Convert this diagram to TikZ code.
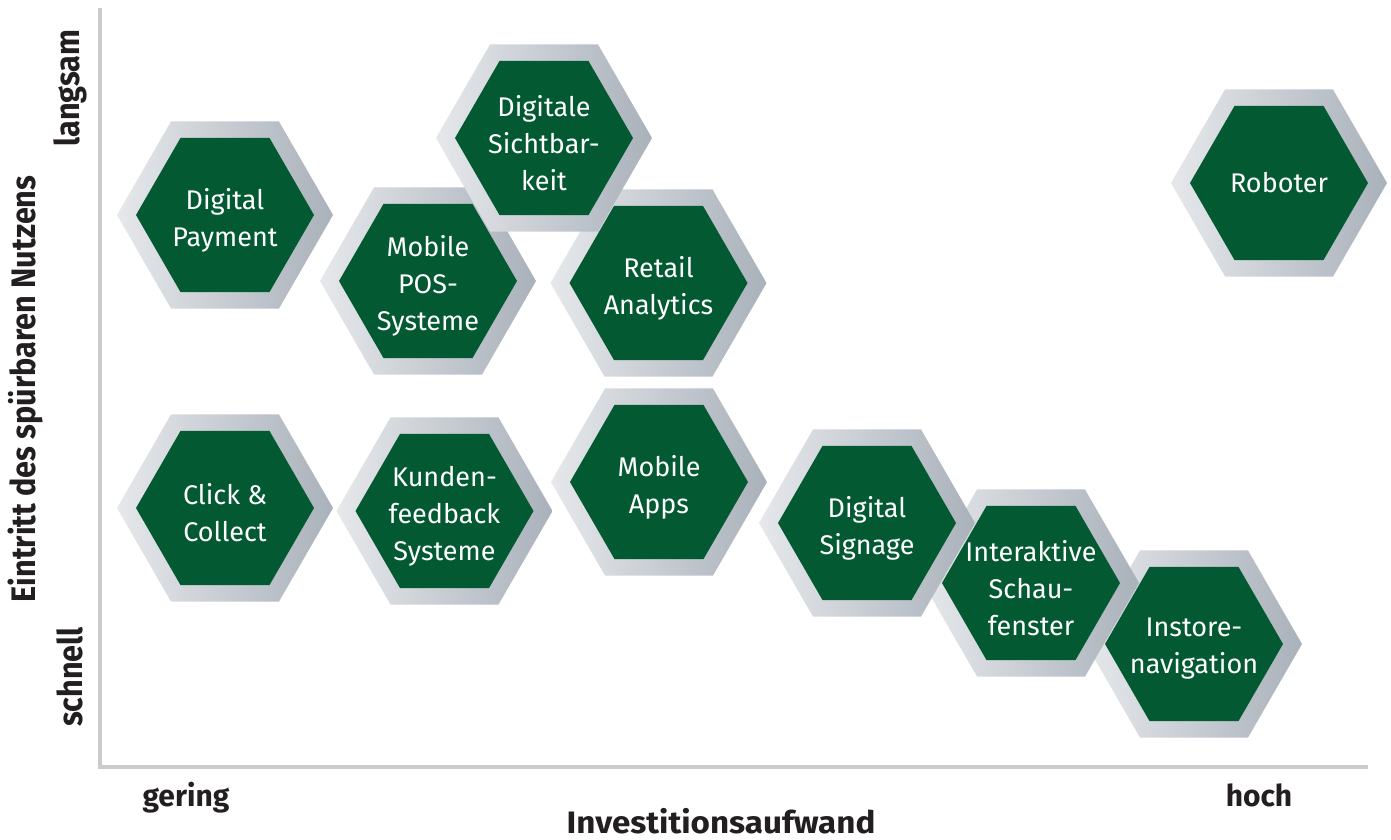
\documentclass[tikz,border=0pt]{standalone}
\usepackage{fontspec}
\setmainfont{Fira Sans}
\newfontfamily\axisfont{Fira Sans}[UprightFont=* Bold, BoldFont=* Bold]
\newfontfamily\axiswide{Fira Sans}[UprightFont=* Bold, BoldFont=* Bold, FakeStretch=1.07]
\newfontfamily\axiscond{Fira Sans}[UprightFont=* Bold, BoldFont=* Bold, FakeStretch=0.9]

\definecolor{hexlight}{HTML}{E6E8EB}
\definecolor{hexdark}{HTML}{A9B1BA}
\definecolor{hexgreen}{HTML}{035A32}
\definecolor{axisgray}{HTML}{CBCBCB}
\definecolor{labelink}{HTML}{231F20}

\tikzset{
  hexlabel/.style={text=white, align=center, inner sep=0pt, yshift=-5pt,
    font=\fontsize{27}{37}\selectfont},
  axisline/.style={draw=axisgray, line width=4pt},
  axislabel/.style={text=labelink, inner sep=0pt, anchor=base, font=\axisfont\fontsize{30}{34}\selectfont},
  axistitle/.style={text=labelink, inner sep=0pt, anchor=base, font=\axiswide\fontsize{31}{34}\selectfont},
  axiscondlabel/.style={text=labelink, inner sep=0pt, rotate=90, font=\axiscond\fontsize{34}{38}\selectfont},
}

% one hexagon cell: [label options], name, centre x, centre y, label
\newcommand\hexcell[5][]{%
  \shade[shift={(#3,#4)}, left color=hexlight, right color=hexdark]
    (108,0) -- (54,93.53) -- (-54,93.53) -- (-108,0) -- (-54,-93.53) -- (54,-93.53) -- cycle;
  \fill[shift={(#3,#4)}, hexgreen]
    (89,0) -- (44.5,77.08) -- (-44.5,77.08) -- (-89,0) -- (-44.5,-77.08) -- (44.5,-77.08) -- cycle;
  \node[hexlabel, #1] (#2) at (#3,#4) {#5};
}

\begin{document}
\begin{tikzpicture}[x=1pt, y=-1pt]
\useasboundingbox (0,0) rectangle (1391,839);
\fill[white] (0,0) rectangle (1391,839);

% axes
\coordinate (ytop) at (100,8);
\coordinate (origin) at (100,767);
\coordinate (xend) at (1368,767);
\draw[axisline] (ytop) -- (origin) -- (xend);

% upper group
\hexcell{pay}{225}{215}{Digital\\Payment}
\hexcell{pos}{428}{281}{Mobile\\POS-\\Systeme}
\hexcell{ana}{658.5}{283}{Retail\\Analytics}
\hexcell{vis}{544}{138}{Digitale\\Sichtbar-\\keit}
\hexcell[yshift=5pt]{rob}{1279}{183}{Roboter}

% lower group
\hexcell{click}{225}{508}{Click \&\\Collect}
\hexcell{feed}{444.5}{511}{Kunden-\\feedback\\Systeme}
\hexcell{apps}{659}{482}{Mobile\\Apps}
\hexcell{nav}{1194}{644}{Instore-\\navigation}
\hexcell{shop}{1031}{583}{Interaktive\\Schau-\\fenster}
\hexcell{sign}{867}{523}{Digital\\Signage}

% axis labels
\node[axislabel] (low) at (186,806) {gering};
\node[axislabel] (high) at (1259,806) {hoch};
\node[axistitle] (xtitle) at (721,833) {Investitionsaufwand};
\node[axiscondlabel] (ytitle) at (25,389) {Eintritt des spürbaren Nutzens};
\node[axiscondlabel] (slow) at (70,88) {langsam};
\node[axiscondlabel] (fast) at (70,677) {schnell};
\end{tikzpicture}
\end{document}
